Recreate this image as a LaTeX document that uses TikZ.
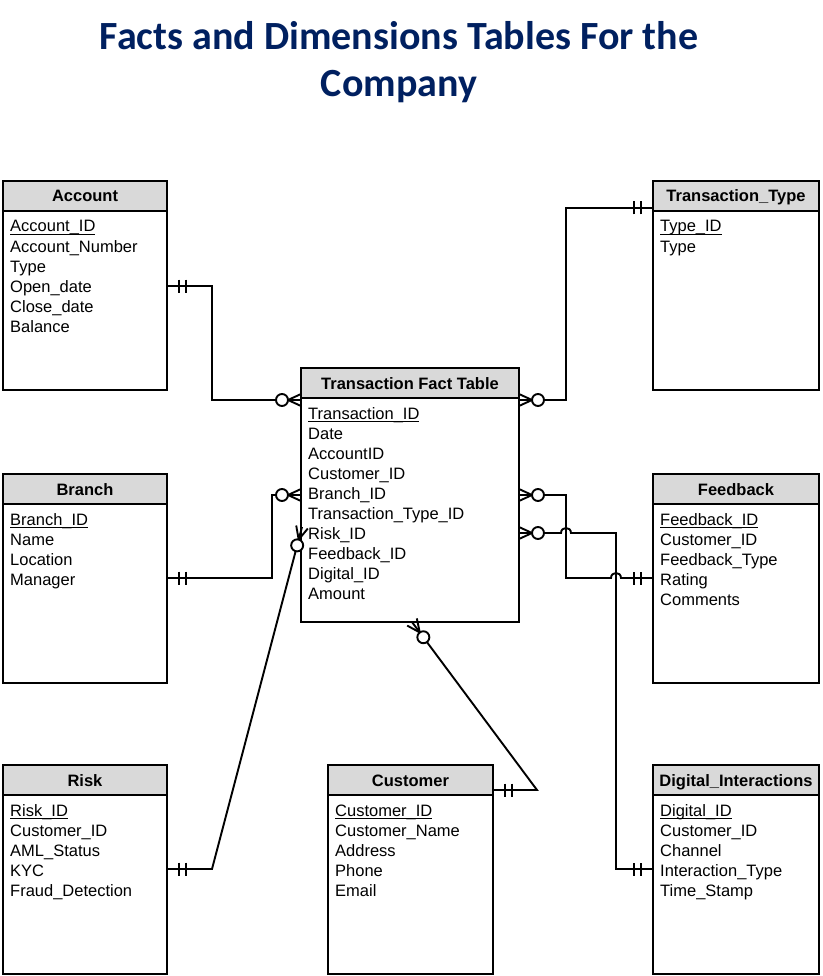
\documentclass[tikz,border=0pt]{standalone}
\usepackage{fontspec}
\setmainfont{Liberation Sans}
\newfontfamily\titlefont{Carlito}
\usetikzlibrary{calc}
\definecolor{navy}{HTML}{002060}
\definecolor{hdrgray}{HTML}{D9D9D9}
\newcommand\ulk[1]{{\setbox0\hbox{#1}\rlap{\rule[-3.2pt]{\wd0}{1.1pt}}\box0}}
\tikzset{
  tbody/.style={draw, line width=1.9pt, inner sep=0, outer sep=0, anchor=north west, fill=white},
  thead/.style={draw, line width=1.9pt, fill=hdrgray, minimum height=30pt, inner sep=0, outer sep=0, anchor=north west},
  ttitle/.style={anchor=base, inner sep=0, font=\bfseries\fontsize{16.5pt}{20pt}\selectfont},
  trow/.style={anchor=base west, inner sep=0, font=\fontsize{16.5pt}{20pt}\selectfont},
  conn/.style={line width=1.9pt, line join=miter},
  titletext/.style={anchor=base, inner sep=0, text=navy, font=\titlefont\bfseries\fontsize{40pt}{47pt}\selectfont}
}
\newcommand\ertable[7]{%
  \node[tbody, minimum width=#4pt, minimum height=#5pt] (#1) at (#2,#3) {};
  \node[thead, minimum width=#4pt] (#1-h) at (#2,#3) {};
  \node[ttitle] (#1-t) at ($(#1.north west)+(#4/2,21)$) {#6};
  \foreach \r [count=\i] in {#7} {
    \node[trow] (#1-\i) at ($(#1.north west)+(7,31+20*\i)$) {\r};
  }
}
\newcommand\zm[2]{%
  \draw[conn] ($(#1)!6pt!90:(#2)$) -- ($(#1)!13pt!(#2)$) -- ($(#1)!6pt!-90:(#2)$);
  \draw[conn, fill=white] ($(#1)!19pt!(#2)$) circle (6pt);
}
\newcommand\oo[2]{%
  \draw[conn] ($(#1)!12pt!(#2)!6.5pt!90:(#2)$) -- ($(#1)!12pt!(#2)!6.5pt!-90:(#2)$);
  \draw[conn] ($(#1)!19pt!(#2)!6.5pt!90:(#2)$) -- ($(#1)!19pt!(#2)!6.5pt!-90:(#2)$);
}
\begin{document}
\begin{tikzpicture}[x=1pt,y=-1pt]
\useasboundingbox[fill=white] (0,0) rectangle (822,976);

\node[titletext] (title1) at (399,50) {Facts and Dimensions Tables For the};
\node[titletext] (title2) at (399,97) {Company};

\ertable{acc}{3}{181}{164}{209}{Account}{\ulk{Account\_ID}, Account\_Number, Type, Open\_date, Close\_date, Balance}
\ertable{ttype}{653}{181}{166}{209}{Transaction\_Type}{\ulk{Type\_ID}, Type}
\ertable{fact}{301}{368}{218}{254}{Transaction Fact Table}{\ulk{Transaction\_ID}, Date, AccountID, Customer\_ID, Branch\_ID, Transaction\_Type\_ID, Risk\_ID, Feedback\_ID, Digital\_ID, Amount}
\ertable{branch}{3}{474}{164}{209}{Branch}{\ulk{Branch\_ID}, Name, Location, Manager}
\ertable{feed}{653}{474}{166}{209}{Feedback}{\ulk{Feedback\_ID}, Customer\_ID, Feedback\_Type, Rating, Comments}
\ertable{risk}{3}{765}{164}{209}{Risk}{\ulk{Risk\_ID}, Customer\_ID, AML\_Status, KYC, Fraud\_Detection}
\ertable{cust}{328}{765}{165}{209}{Customer}{\ulk{Customer\_ID}, Customer\_Name, Address, Phone, Email}
\ertable{digi}{653}{765}{166}{209}{Digital\_Interactions}{\ulk{Digital\_ID}, Customer\_ID, Channel, Interaction\_Type, Time\_Stamp}

% connection points on the fact table
\coordinate (fA) at ($(fact.north west)+(0,32)$);
\coordinate (fT) at ($(fact.north east)+(0,32)$);
\coordinate (fB) at ($(fact.north west)+(0,127)$);
\coordinate (fR) at ($(fact.north west)+(1,159)$);
\coordinate (fF) at ($(fact.north east)+(0,127)$);
\coordinate (fD) at ($(fact.north east)+(0,165)$);
\coordinate (fC) at ($(fact.south west)+(111,0)$);
% connection points on the dimension tables
\coordinate (aA) at ($(acc.north east)+(0,105)$);
\coordinate (tT) at ($(ttype.north west)+(0,27)$);
\coordinate (bB) at ($(branch.north east)+(0,104)$);
\coordinate (rR) at ($(risk.north east)+(0,104)$);
\coordinate (cC) at ($(cust.north east)+(0,25)$);
\coordinate (dF) at ($(feed.north west)+(0,104)$);
\coordinate (dD) at ($(digi.north west)+(0,104)$);

% connectors
\draw[conn] (aA) -- ++(45,0) |- (fA);
\draw[conn] (tT) -- ++(-87,0) |- (fT);
\draw[conn] (bB) -- ++(105,0) |- (fB);
\draw[conn] (rR) -- ++(45,0) -- (fR);
\draw[conn] (cC) -- ++(44,0) -- (fC);
\draw[conn] (fF) -- (566,495) -- (566,578) -- (611,578)
  .. controls (611,571.3) and (621,571.3) .. (621,578) -- (dF);
\draw[conn] (fD) -- (561,533) .. controls (561,526.3) and (571,526.3) .. (571,533)
  -- (616,533) |- (dD);

% ends
\zm{fA}{212,400}
\zm{fT}{566,400}
\zm{fB}{272,495}
\zm{fR}{212,869}
\zm{fC}{537,790}
\zm{fF}{566,495}
\zm{fD}{561,533}
\oo{aA}{212,286}
\oo{tT}{566,208}
\oo{bB}{272,578}
\oo{rR}{212,869}
\oo{cC}{537,790}
\oo{dF}{621,578}
\oo{dD}{616,869}
\end{tikzpicture}
\end{document}
